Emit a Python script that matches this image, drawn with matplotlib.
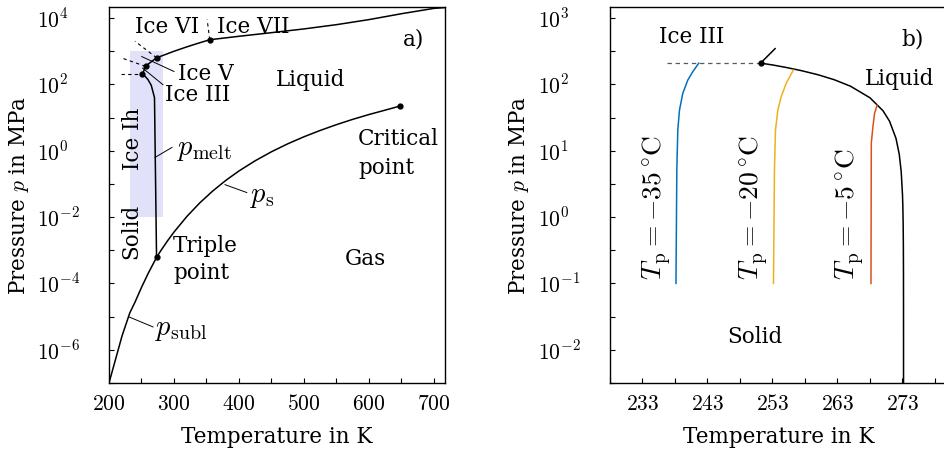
import numpy as np
import matplotlib
matplotlib.use("Agg")
from matplotlib import pyplot as plt
from matplotlib.ticker import FixedLocator, FixedFormatter, NullLocator

plt.rcParams['font.family'] = ['DejaVu Serif']
plt.rcParams['mathtext.fontset'] = 'cm'

# ---- phase diagram of water (T in K, p in MPa) ----
subl_T = [200.0, 220.0, 232.0, 240.0, 250.0, 260.0, 273.16]
subl_p = [1.0e-7, 2.6e-6, 1.3e-5, 2.73e-5, 7.6e-5, 1.96e-4, 6.12e-4]

sat_T = [273.16, 280, 290, 300, 320, 340, 360, 380, 400, 425, 450, 475,
         500, 525, 550, 575, 600, 625, 647.1]
sat_p = [6.12e-4, 9.92e-4, 1.92e-3, 3.54e-3, 1.055e-2, 2.72e-2, 6.22e-2,
         0.129, 0.246, 0.500, 0.932, 1.617, 2.639, 4.094, 6.117, 8.836,
         12.34, 16.76, 22.06]

# melting curve of ice Ih, coarse version for the overview
melt_a_T = [273.16, 270.0, 265.0, 260.0, 255.0, 251.165]
melt_a_p = [6.12e-4, 40.0, 94.0, 139.0, 180.0, 208.6]

# melting curves of the high-pressure ices III, V, VI, VII
hp_T = [251.165, 253.0, 254.5, 256.164, 260.0, 265.0, 270.0, 273.31,
        300.0, 320.0, 340.0, 355.0, 400.0, 450.0, 500.0, 550.0, 600.0,
        650.0, 700.0, 717.0]
hp_p = [208.6, 242.8, 284.1, 350.1, 402.6, 479.6, 567.5, 632.4,
        996.0, 1357.0, 1808.0, 2216.0, 2817.0, 3619.0, 4696.0, 6309.0,
        8965.0, 13488.0, 19550.0, 20670.0]

points_T = [273.16, 647.1, 251.165, 256.164, 273.31, 355.0]
points_p = [6.12e-4, 22.06, 208.6, 350.1, 632.4, 2216.0]

# ice/ice boundaries (dashed)
b_ih3_T, b_ih3_p = [218.0, 251.165], [208.6, 208.6]
b_35_T, b_35_p = [256.164, 218.0], [350.1, 640.0]
b_56_T, b_56_p = [273.31, 240.0], [632.4, 2000.0]
b_67_T, b_67_p = [355.0, 351.0], [2216.0, 9000.0]

# ---- detail: melting of ice Ih ----
melt_b_T = [251.165, 253.0, 255.0, 257.5, 260.0, 262.5, 265.0, 268.0,
            270.0, 271.0, 272.0, 272.5, 272.8, 273.0, 273.05, 273.1,
            273.13, 273.15, 273.159, 273.1599, 273.16]
melt_b_p = [208.6, 195.9, 180.3, 160.3, 139.4, 117.3, 93.65, 62.64,
            39.97, 27.91, 15.32, 8.82, 4.84, 2.163, 1.489, 0.813,
            0.406, 0.136, 0.0142, 0.00197, 6.12e-4]
ice3_T, ice3_p = [251.165, 253.4], [208.6, 345.0]
ih3_T, ih3_p = [236.8, 251.165], [208.6, 208.6]

tp_labels = ['-35', '-20', '-5']
tp_T = [[238.15, 238.28, 238.43, 238.69, 239.2, 239.97, 240.74, 241.66],
        [253.15, 253.3, 253.46, 253.82, 254.34, 255.1, 256.2],
        [268.15, 268.2, 268.45, 268.7, 269.1]]
tp_p = [[0.1, 5.1, 20.5, 40.9, 73.1, 116.0, 155.0, 208.6],
        [0.1, 5.1, 20.4, 41.0, 65.0, 103.5, 164.0],
        [0.1, 13.0, 23.0, 36.6, 48.7]]
tp_colors = ['#0072BD', '#EDB120', '#D95319']

a_xticks = list(range(200, 701, 50))
a_xlabels = ['$%d$' % t if t % 100 == 0 else '' for t in a_xticks]
a_yexp = list(range(-7, 5))
a_ylabels = ['$10^{%d}$' % e if e % 2 == 0 else '' for e in a_yexp]

b_xticks = [233 + 5 * i for i in range(-1, 10)]
b_xlabels = ['$%d$' % t if (t - 233) % 10 == 0 else '' for t in b_xticks]
b_yexp = [-2.5 + 0.5 * i for i in range(12)]
b_ylabels = ['$10^{%d}$' % e if e == int(e) else '' for e in b_yexp]

FS = 15.5   # text
MS = 20.5   # math labels
W, H = 944, 454
fig = plt.figure(figsize=(W / 100, H / 100), dpi=100)
ax_a = fig.add_axes([109 / W, 71 / H, 336 / W, 376 / H])
ax_b = fig.add_axes([610 / W, 71 / H, 338 / W, 376 / H])

for ax in (ax_a, ax_b):
    ax.set_yscale('log')
    for s in ax.spines.values():
        s.set_linewidth(1.0)
    ax.tick_params(direction='in', length=3.6, width=0.8, labelsize=FS,
                   top=False, right=False)
    ax.yaxis.set_minor_locator(NullLocator())

lw = 1.1

# ---------------- panel a ----------------
ax_a.fill_between([232, 283], 1e-2, 1e3, color='#e1e1fa', lw=0, zorder=0)
ax_a.plot(subl_T, subl_p, 'k', lw=lw)
ax_a.plot(sat_T, sat_p, 'k', lw=lw)
ax_a.plot(melt_a_T, melt_a_p, 'k', lw=lw)
ax_a.plot(hp_T, hp_p, 'k', lw=lw)
for bt, bp in [(b_ih3_T, b_ih3_p), (b_35_T, b_35_p), (b_56_T, b_56_p),
               (b_67_T, b_67_p)]:
    ax_a.plot(bt, bp, color='k', lw=0.8, dashes=(3, 3))
ax_a.plot(points_T, points_p, 'ko', ms=3.5)

# leader lines
leaders = [([250.3, 300.0], [690.0, 245.0]),
           ([251.8, 283.0], [309.0, 98.0]),
           ([270.8, 297.0], [0.63, 1.26]),
           ([378.5, 412.0], [0.095, 0.055]),
           ([230.8, 267.7], [9.8e-6, 4.9e-6])]
for lt, lp in leaders:
    ax_a.plot(lt, lp, 'k', lw=0.7)

ax_a.text(240, 10**3.55, 'Ice VI', fontsize=FS, va='baseline')
ax_a.text(366, 10**3.55, 'Ice VII', fontsize=FS, va='baseline')
ax_a.text(306, 10**2.14, 'Ice V', fontsize=FS, va='baseline')
ax_a.text(286, 10**1.51, 'Ice III', fontsize=FS, va='baseline')
ax_a.text(457, 10**1.96, 'Liquid', fontsize=FS, va='baseline')
ax_a.text(652, 10**3.16, 'a)', fontsize=FS, va='baseline')
ax_a.text(237, 2.3, 'Ice Ih', fontsize=FS, rotation=90, ha='center', va='center')
ax_a.text(234, 3.7e-3, 'Solid', fontsize=FS, rotation=90, ha='center', va='center')
ax_a.text(298.5, 10**-3.06, 'Triple', fontsize=FS, va='baseline')
ax_a.text(298.5, 10**-3.87, 'point', fontsize=FS, va='baseline')
ax_a.text(583, 10**0.186, 'Critical', fontsize=FS, va='baseline')
ax_a.text(583, 10**-0.715, 'point', fontsize=FS, va='baseline')
ax_a.text(595, 10**-3.45, 'Gas', fontsize=FS, va='baseline', ha='center')
ax_a.text(304.6, 1.1, r'$p_{\mathrm{melt}}$', fontsize=MS, va='center')
ax_a.text(417, 0.042, r'$p_{\mathrm{s}}$', fontsize=MS, va='center')
ax_a.text(270.8, 10**-5.4, r'$p_{\mathrm{subl}}$', fontsize=MS, va='center')

ax_a.set_xlim(200, 717)
ax_a.set_ylim(1e-7, 2.15e4)
ax_a.xaxis.set_major_locator(FixedLocator(a_xticks))
ax_a.xaxis.set_major_formatter(FixedFormatter(a_xlabels))
ax_a.yaxis.set_major_locator(FixedLocator([10.0**e for e in a_yexp]))
ax_a.yaxis.set_major_formatter(FixedFormatter(a_ylabels))

# ---------------- panel b ----------------
ax_b.plot(ih3_T, ih3_p, color='0.35', lw=0.9, dashes=(3.5, 3))
ax_b.plot(melt_b_T, melt_b_p, 'k', lw=lw)
ax_b.plot(ice3_T, ice3_p, 'k', lw=lw)
ax_b.plot([251.165], [208.6], 'ko', ms=3.5)
for t, p, c in zip(tp_T, tp_p, tp_colors):
    ax_b.plot(t, p, color=c, lw=1.1)

tp_text_T = [235.15, 250.1, 264.85]
for xt, lab in zip(tp_text_T, tp_labels):
    ax_b.text(xt, 10**-0.95, r'$T_{\mathrm{p}} = ' + lab + r'\,^{\circ}\mathrm{C}$',
              fontsize=19.8, rotation=90, ha='center', va='bottom')

ax_b.text(235.6, 10**2.62, 'Ice III', fontsize=FS, va='baseline')
ax_b.text(272.8, 10**2.59, 'b)', fontsize=FS, va='baseline')
ax_b.text(267.2, 10**1.99, 'Liquid', fontsize=FS, va='baseline')
ax_b.text(246.1, 10**-1.89, 'Solid', fontsize=FS, va='baseline')

ax_b.set_xlim(228, 280)
ax_b.set_ylim(10**-2.5, 10**3.165)
ax_b.xaxis.set_major_locator(FixedLocator(b_xticks))
ax_b.xaxis.set_major_formatter(FixedFormatter(b_xlabels))
ax_b.yaxis.set_major_locator(FixedLocator([10.0**e for e in b_yexp]))
ax_b.yaxis.set_major_formatter(FixedFormatter(b_ylabels))

for ax in (ax_a, ax_b):
    ax.tick_params(axis='x', pad=7)
    ax.tick_params(axis='y', pad=51.8)
    for t in ax.get_yticklabels():
        t.set_horizontalalignment('left')
    ax.set_xlabel('Temperature in K', fontsize=FS)
    ax.set_ylabel(r'Pressure $p$ in MPa', fontsize=FS)
    ax.xaxis.set_label_coords(0.5, -0.115)
ax_a.yaxis.set_label_coords(-0.232, 0.5)
ax_b.yaxis.set_label_coords(-0.234, 0.5)

fig.savefig('out.png', dpi=100)
